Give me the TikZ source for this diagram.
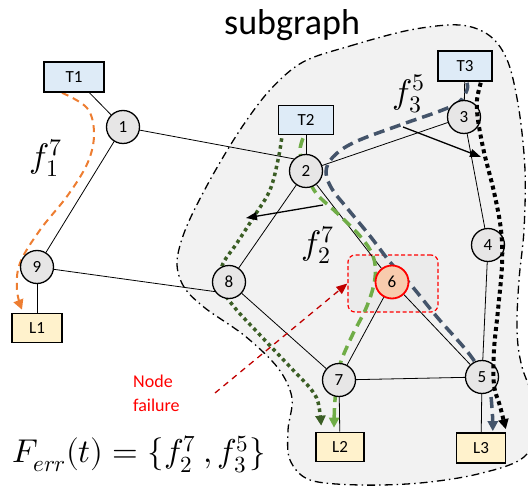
\documentclass[tikz,border=0pt]{standalone}
\usepackage{fontspec}
\usepackage{unicode-math}
\setmainfont{Carlito}
\setmathfont{Latin Modern Math}
\usetikzlibrary{arrows.meta,calc}
\definecolor{nodegray}{HTML}{E7E6E6}
\definecolor{blobfill}{HTML}{F2F2F2}
\definecolor{rectfill}{HTML}{EBEBEB}
\definecolor{tblue}{HTML}{DEEBF7}
\definecolor{lyellow}{HTML}{FFF2CC}
\definecolor{failfill}{HTML}{F8CBAD}
\definecolor{orangec}{HTML}{ED7D31}
\definecolor{dgreen}{HTML}{3B5E25}
\definecolor{lgreen}{HTML}{70AD47}
\definecolor{slate}{HTML}{44546A}
\definecolor{darkred}{HTML}{C00000}
\pgfdeclarelayer{bg}
\pgfdeclarelayer{paths}
\pgfdeclarelayer{top}
\pgfsetlayers{bg,paths,main,top}
\begin{document}
\begin{tikzpicture}[x=1pt,y=-1pt,
  circ/.style={circle,draw=black,line width=1.3pt,fill=nodegray,minimum size=33pt,inner sep=0pt,font=\fontsize{17}{17}\selectfont},
  failcirc/.style={circ,draw=red,line width=1.8pt,fill=failfill},
  tbox/.style={rectangle,draw=black,line width=1.6pt,fill=tblue,inner sep=0pt,font=\fontsize{17}{17}\selectfont},
  lbox/.style={rectangle,draw=black,line width=1.6pt,fill=lyellow,inner sep=0pt,font=\fontsize{17}{17}\selectfont},
  edge/.style={line width=0.8pt,draw=black},
  blob/.style={draw=black,fill=blobfill,line width=1.3pt,dash pattern=on 8pt off 4pt on 1.5pt off 4pt},
  failbox/.style={rectangle,draw=red,fill=rectfill,line width=1.2pt,dash pattern=on 4pt off 2.5pt,rounded corners=7pt,minimum width=90pt,minimum height=57pt,inner sep=0pt},
  flowtip/.style={-{Triangle[length=10pt,width=10pt]}},
  ptr/.style={line width=1.3pt,-{Triangle[length=11pt,width=8pt]}},
  mathlbl/.style={inner sep=0pt,font=\fontsize{34}{34}\selectfont}
]
\useasboundingbox (0,0) rectangle (528,486);

% nodes
\node[tbox,minimum width=60pt,minimum height=30pt] (T1) at (74,77) {T1};
\node[tbox,minimum width=55pt,minimum height=29pt] (T2) at (306,120) {T2};
\node[tbox,minimum width=54pt,minimum height=30pt] (T3) at (465,66) {T3};
\node[lbox,minimum width=50pt,minimum height=29pt] (L1) at (37,328) {L1};
\node[lbox,minimum width=48pt,minimum height=29pt] (L2) at (340,447) {L2};
\node[lbox,minimum width=49pt,minimum height=30pt] (L3) at (481,448) {L3};
\node[circ] (n1) at (123,127) {1};
\node[circ] (n2) at (306,171) {2};
\node[circ] (n3) at (464,117) {3};
\node[circ] (n4) at (488,245) {4};
\node[circ] (n5) at (482,377) {5};
\node[failcirc] (n6) at (392,282) {6};
\node[circ] (n7) at (339,380) {7};
\node[circ] (n8) at (229,282) {8};
\node[circ] (n9) at (37,267) {9};

% text
\node[anchor=base west,inner sep=0pt,font=\fontsize{36}{36}\selectfont] (sg) at (224,35) {subgraph};
\node[mathlbl] (lf1) at (46,158) {$f_1^7$};
\node[mathlbl] (lf2) at (318,245) {$f_2^7$};
\node[mathlbl] (lf3) at (409,94) {$f_3^5$};
\node[anchor=base west,inner sep=0pt,font=\fontsize{33}{33}\selectfont] (ferr) at (12,463) {$F_{err}(t) = \{f_2^7\ ,f_3^5\}$};
\node[anchor=base west,inner sep=0pt,text=red,font=\fontsize{18}{18}\selectfont] (nf1) at (133,388) {Node};
\node[anchor=base west,inner sep=0pt,text=red,font=\fontsize{18}{18}\selectfont] (nf2) at (133,412) {failure};

\begin{pgfonlayer}{bg}
  \begin{scope}
    \clip (0,0) rectangle (528,486);
    \draw[blob] plot[smooth cycle,tension=0.55] coordinates {
      (303,62) (350,46) (410,30) (460,25) (490,36) (508,62) (519,110) (525,170)
      (524,230) (519,280) (517,330) (522,367) (540,420) (524,457) (478,474)
      (420,483) (360,485) (310,480) (290,460) (288,430) (292,398) (278,368)
      (245,336) (205,308) (184,287) (177,262) (186,228) (210,180) (240,130) (270,90)};
  \end{scope}
  \node[failbox] (fb) at (393,283.5) {};
  \draw[edge] (T1) -- (n1);
  \draw[edge] (n1) -- (n9);
  \draw[edge] (n1) -- (n2.135);
  \draw[edge] (n9) -- (n8.214);
  \draw[edge] (n9) -- (L1);
  \draw[edge] (T2) -- (n2);
  \draw[edge] (n2) -- (n3);
  \draw[edge] (n2) -- (n8);
  \draw[edge] (n2) -- (n6);
  \draw[edge] (T3) -- (n3);
  \draw[edge] (n3) -- (n4);
  \draw[edge] (n4) -- (n5);
  \draw[edge] (n8) -- (n7);
  \draw[edge] (n6) -- (n7);
  \draw[edge] (n6) -- (n5);
  \draw[edge] (n7) -- (n5);
  \draw[edge] (n7) -- (L2);
  \draw[edge] (n5) -- (L3);
\end{pgfonlayer}

% path end points
\coordinate (o1s) at ($(T1.south)+(-12,0)$);
\coordinate (o1e) at ($(L1.north)+(-15,-3)$);
\coordinate (g1s) at ($(T2.south west)+(4,3)$);
\coordinate (g1e) at ($(L2.north west)+(6,-6)$);
\coordinate (g2s) at ($(T2.south)+(-3,3)$);
\coordinate (g2e) at ($(L2.north)+(-6,-4)$);
\coordinate (b1s) at ($(T3.south)+(2,1)$);
\coordinate (b1e) at ($(L3.north east)+(-13.5,-1)$);
\coordinate (k1s) at ($(T3.south east)+(-12,1)$);
\coordinate (k1e) at ($(L3.north east)+(-0.5,-3)$);

\begin{pgfonlayer}{paths}
  \draw[orangec,line width=2pt,dash pattern=on 7pt off 5pt,flowtip] plot[smooth,tension=0.6] coordinates {
    (o1s) (87,108) (94,133) (88,162) (68,195) (40,230) (20,263) (17,290) (o1e)};
  \draw[dgreen,line width=3.5pt,dash pattern=on 3.5pt off 3.5pt,flowtip] plot[smooth,tension=0.6] coordinates {
    (g1s) (278,160) (270,190) (255,215) (237,243) (222,266) (222,288) (235,308) (260,335) (293,370) (310,388) (318,402) (g1e)};
  \draw[lgreen,line width=3.5pt,dash pattern=on 10pt off 6pt,flowtip] plot[smooth,tension=0.6] coordinates {
    (g2s) (300,152) (306,172) (316,193) (337,213) (360,236) (373,256) (375,278) (367,306) (351,338) (339,368) (335,400) (g2e)};
  \draw[slate,line width=3.5pt,dash pattern=on 11pt off 6pt,flowtip] plot[smooth,tension=0.6] coordinates {
    (b1s) (467,90) (459,102) (440,111) (403,124) (355,142) (333,157) (326,172) (332,189) (347,208) (370,236) (390,262) (411,285) (437,317) (470,355) (488,385) (492,408) (b1e)};
\end{pgfonlayer}

\begin{pgfonlayer}{top}
  \draw[black,line width=4pt,dash pattern=on 4pt off 3.5pt,flowtip] plot[smooth,tension=0.6] coordinates {
    (k1s) (477,100) (478,120) (484,152) (494,192) (501,230) (502,265) (498,310) (494,350) (494,385) (500,406) (k1e)};
  \coordinate (a1s) at (403,127);
  \coordinate (a1e) at (481,157);
  \draw[ptr] (a1s) -- (a1e);
  \coordinate (a2s) at (323,205);
  \coordinate (a2e) at (246,218);
  \draw[ptr] (a2s) -- (a2e);
  \coordinate (nfs) at (215,393);
  \draw[darkred,line width=1.3pt,dash pattern=on 6pt off 5pt,-{Triangle[length=11pt,width=9pt]}] (nfs) -- (fb.west);
\end{pgfonlayer}
\end{tikzpicture}
\end{document}
